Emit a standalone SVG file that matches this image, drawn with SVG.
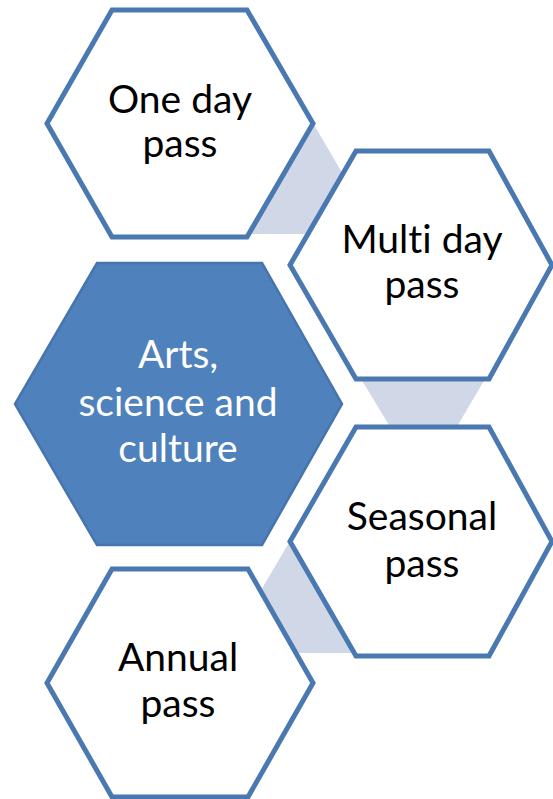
<svg xmlns="http://www.w3.org/2000/svg" width="553" height="799" viewBox="0 0 553 799">
  <style>
    .link { fill: #D0D8E8; stroke: none; }
    .hex { fill: #FFFFFF; stroke: #4A78B0; stroke-width: 5; stroke-linejoin: miter; }
    .hub { fill: #4F81BD; stroke: #4674AC; stroke-width: 2.5; }
    .label { font-family: Lato, "Open Sans", "Liberation Sans", sans-serif; font-size: 39px; text-anchor: middle; fill: #000000; font-variant-ligatures: none; font-feature-settings: "liga" 0, "clig" 0; }
    .hub-label { fill: #FFFFFF; }
  </style>
  <rect width="553" height="799" fill="#FFFFFF"/>

  <!-- shaded links between neighbouring hexagons -->
  <g id="connectors">
    <polygon class="link" points="313,123 378,234 245,234"/>
    <polygon class="link" points="358,374 488,374 455,430 392,430"/>
    <polygon class="link" points="290,541 224,653 358,653"/>
  </g>

  <g id="node-one-day">
    <polygon class="hex" points="112,10 247,10 313,123.5 247,237 112,237 47,123.5"/>
    <text class="label" x="180" y="113">One day</text>
    <text class="label" x="180" y="157">pass</text>
  </g>

  <g id="node-multi-day">
    <polygon class="hex" points="356,151 489,151 552,265 489,379 356,379 290,265"/>
    <text class="label" x="422" y="253">Multi day</text>
    <text class="label" x="422" y="298">pass</text>
  </g>

  <g id="node-seasonal">
    <polygon class="hex" points="356,427 489,427 552,541.5 489,656 356,656 290,541.5"/>
    <text class="label" x="422" y="530">Seasonal</text>
    <text class="label" x="422" y="577">pass</text>
  </g>

  <g id="node-annual">
    <polygon class="hex" points="112,569 248,569 313,683 248,797 112,797 47,683"/>
    <text class="label" x="178" y="671">Annual</text>
    <text class="label" x="178" y="717">pass</text>
  </g>

  <g id="node-hub">
    <polygon class="hub" points="97,263 262,263 342,404 262,545 97,545 15,404"/>
    <text class="label hub-label" x="178" y="368">Arts,</text>
    <text class="label hub-label" x="178" y="416">science and</text>
    <text class="label hub-label" x="178" y="462">culture</text>
  </g>
</svg>
